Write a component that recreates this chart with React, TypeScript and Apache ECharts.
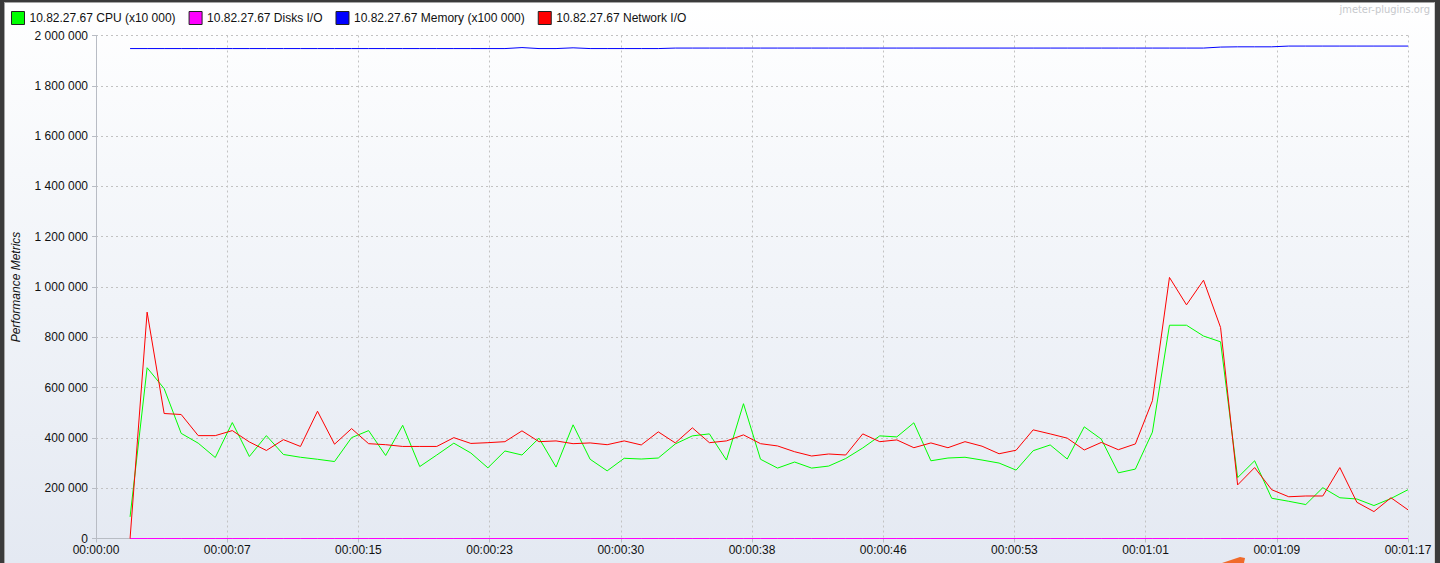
import React, { useEffect, useRef } from "react";
import * as echarts from "echarts";

const seriesNames = [
  "10.82.27.67 CPU (x10 000)",
  "10.82.27.67 Disks I/O",
  "10.82.27.67 Memory (x100 000)",
  "10.82.27.67 Network I/O",
];
const seriesColors = ["#00ff00", "#ff00ff", "#0000ff", "#ff0000"];

const seconds = [
  2, 3, 4, 5, 6, 7, 8, 9, 10, 11, 12, 13, 14, 15, 16, 17, 18, 19, 20, 21, 22, 23, 24, 25, 26,
  27, 28, 29, 30, 31, 32, 33, 34, 35, 36, 37, 38, 39, 40, 41, 42, 43, 44, 45, 46, 47, 48, 49,
  50, 51, 52, 53, 54, 55, 56, 57, 58, 59, 60, 61, 62, 63, 64, 65, 66, 67, 68, 69, 70, 71, 72,
  73, 74, 75, 76, 77,
];

const cpu = [
  86000, 679000, 596000, 418000, 379000, 322000, 461000, 326000, 409000, 334000, 323000,
  315000, 306000, 401000, 429000, 330000, 450000, 286000, 332000, 379000, 340000, 281000,
  348000, 332000, 399000, 284000, 452000, 315000, 269000, 319000, 316000, 320000, 376000,
  408000, 416000, 312000, 536000, 315000, 280000, 304000, 280000, 288000, 318000, 360000,
  408000, 404000, 460000, 309000, 320000, 323000, 312000, 300000, 272000, 349000, 372000,
  316000, 444000, 395000, 261000, 276000, 423000, 848000, 848000, 805000, 782000, 242000,
  309000, 160000, 148000, 135000, 202000, 162000, 157000, 131000, 159000, 194000,
];

const disks = [
  0, 0, 0, 0, 0, 0, 0, 0, 0, 0, 0, 0, 0, 0, 0, 0, 0, 0, 0, 0, 0, 0, 0, 0, 0, 0, 0, 0, 0, 0,
  0, 0, 0, 0, 0, 0, 0, 0, 0, 0, 0, 0, 0, 0, 0, 0, 0, 0, 0, 0, 0, 0, 0, 0, 0, 0, 0, 0, 0, 0,
  0, 0, 0, 0, 0, 0, 0, 0, 0, 0, 0, 0, 0, 0, 0, 0,
];

const memory = [
  1948000, 1948000, 1948000, 1948000, 1948000, 1948000, 1948000, 1948000, 1948000, 1948000,
  1948000, 1948000, 1948000, 1948000, 1948000, 1948000, 1948000, 1948000, 1948000, 1948000,
  1948000, 1948000, 1948000, 1952000, 1948000, 1948000, 1951000, 1948000, 1948000, 1948000,
  1948000, 1948000, 1950000, 1950000, 1950000, 1950000, 1950000, 1950000, 1950000, 1950000,
  1950000, 1950000, 1950000, 1950000, 1950000, 1950000, 1950000, 1950000, 1950000, 1950000,
  1950000, 1950000, 1950000, 1950000, 1950000, 1950000, 1950000, 1950000, 1950000, 1950000,
  1950000, 1950000, 1950000, 1950000, 1954000, 1955000, 1955000, 1955000, 1958000, 1958000,
  1958000, 1958000, 1958000, 1958000, 1958000, 1958000,
];

const network = [
  0, 900000, 497000, 493000, 409000, 409000, 429000, 384000, 350000, 393000, 366000, 506000,
  375000, 437000, 377000, 373000, 366000, 366000, 366000, 401000, 378000, 381000, 385000,
  428000, 385000, 388000, 377000, 380000, 373000, 388000, 372000, 424000, 380000, 440000,
  381000, 388000, 412000, 377000, 368000, 345000, 328000, 336000, 332000, 416000, 385000,
  392000, 361000, 380000, 361000, 385000, 367000, 337000, 351000, 432000, 416000, 399000,
  352000, 382000, 353000, 376000, 548000, 1038000, 929000, 1027000, 839000, 213000, 282000,
  194000, 166000, 169000, 169000, 282000, 144000, 107000, 162000, 114000,
];

const xTickLabels = [
  "00:00:00", "00:00:07", "00:00:15", "00:00:23", "00:00:30", "00:00:38",
  "00:00:46", "00:00:53", "00:01:01", "00:01:09", "00:01:17",
];
const yTickLabels = [
  "0", "200 000", "400 000", "600 000", "800 000", "1 000 000",
  "1 200 000", "1 400 000", "1 600 000", "1 800 000", "2 000 000",
];

const FONT = "'Liberation Sans', Arial, sans-serif";

export default function App() {
  const ref = useRef<HTMLDivElement>(null);

  useEffect(() => {
    if (!ref.current) return;
    const chart = echarts.init(ref.current, undefined, { renderer: "svg" });
    const values = [cpu, disks, memory, network];
    chart.setOption({
      animation: false,
      backgroundColor: "transparent",
      textStyle: { fontFamily: FONT },
      legend: {
        left: 11,
        top: 11,
        padding: 0,
        itemWidth: 13,
        itemHeight: 13,
        itemGap: 13,
        icon: "rect",
        textStyle: { fontSize: 12, color: "#111", fontFamily: FONT },
        itemStyle: { borderColor: "#222", borderWidth: 1 },
        data: seriesNames.map((n) => ({ name: n, icon: "rect" })),
      },
      grid: { left: 96, right: 32, top: 35.5, bottom: 24.5, containLabel: false },
      xAxis: {
        type: "value",
        min: 0,
        max: 77,
        interval: 7.7,
        axisLine: { show: true, lineStyle: { color: "#b8bcc4" } },
        axisTick: { show: true, length: 4, lineStyle: { color: "#b8bcc4" } },
        axisLabel: {
          margin: 5,
          fontSize: 12,
          color: "#111",
          fontFamily: FONT,
          formatter: (v: number) => xTickLabels[Math.round(v / 7.7)] ?? "",
        },
        splitLine: { show: true, lineStyle: { color: "#c2c2c2", type: [2, 3], width: 1 } },
      },
      yAxis: {
        type: "value",
        min: 0,
        max: 2000000,
        interval: 200000,
        name: "Performance Metrics",
        nameLocation: "middle",
        nameRotate: 90,
        nameGap: 74,
        nameTextStyle: { fontStyle: "italic", fontSize: 12, color: "#111", fontFamily: FONT },
        axisLine: { show: true, lineStyle: { color: "#b8bcc4" } },
        axisTick: { show: true, length: 4, lineStyle: { color: "#b8bcc4" } },
        axisLabel: {
          margin: 8,
          fontSize: 12,
          color: "#111",
          fontFamily: FONT,
          formatter: (v: number) => yTickLabels[Math.round(v / 200000)] ?? "",
        },
        splitLine: { show: true, lineStyle: { color: "#c2c2c2", type: [2, 3], width: 1 } },
      },
      graphic: [
        {
          type: "text",
          right: 10,
          top: 4,
          style: {
            text: "jmeter-plugins.org",
            fill: "#c6c8cc",
            fontSize: 11,
            fontFamily: "'DejaVu Sans Condensed', 'Liberation Sans Narrow', sans-serif",
          },
        },
        {
          type: "polygon",
          shape: { points: [[1222, 563], [1240, 557], [1245, 558], [1244, 563]] },
          style: { fill: "#f06a2a" },
        },
      ],
      series: seriesNames.map((name, i) => ({
        name,
        type: "line",
        data: seconds.map((s, j) => [s, values[i][j]]),
        showSymbol: false,
        symbol: "none",
        lineStyle: { color: seriesColors[i], width: 1 },
        itemStyle: { color: seriesColors[i] },
        z: 2 + i,
      })),
    });
    return () => chart.dispose();
  }, []);

  return (
    <div style={{ position: "fixed", left: 0, top: 0, width: 1440, height: 563, background: "#3b3b3b", overflow: "hidden" }}>
      <div
        style={{
          position: "absolute",
          left: 4,
          top: 2,
          width: 1431,
          height: 561,
          boxSizing: "border-box",
          borderLeft: "1px solid #a6a6a6",
          borderTop: "1px solid #a6a6a6",
          borderRight: "1px solid #d0d0d0",
          background: "linear-gradient(to bottom, #ffffff 0%, #f6f8fb 30%, #e4e9f2 100%)",
        }}
      />
      <div ref={ref} style={{ position: "absolute", left: 0, top: 0, width: 1440, height: 563 }} />
    </div>
  );
}
